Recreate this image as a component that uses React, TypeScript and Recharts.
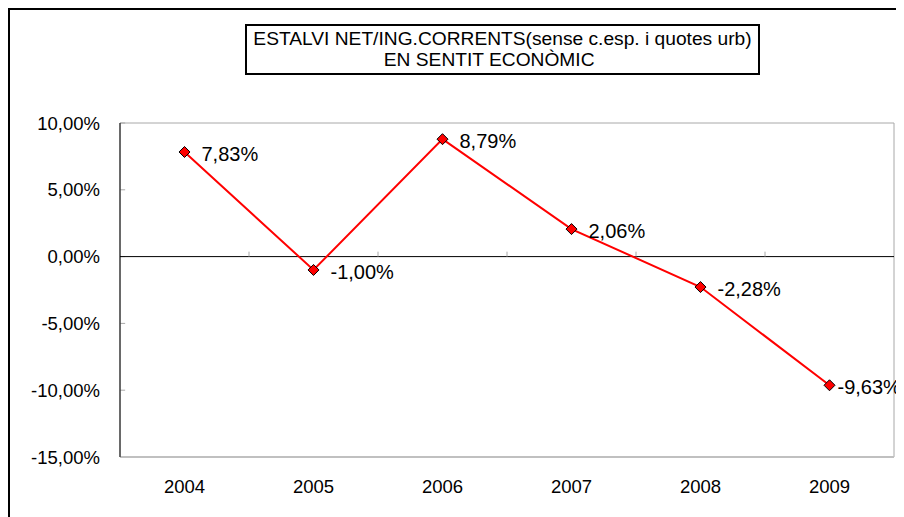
import { Line, LineChart, ReferenceArea, ReferenceLine, XAxis, YAxis, LabelList } from 'recharts';

const years = ['2004', '2005', '2006', '2007', '2008', '2009'];
const ratios = [7.83, -1.0, 8.79, 2.06, -2.28, -9.63];
const yTicks = [10, 5, 0, -5, -10, -15];
const boundaries = [1, 2, 3, 4, 5];
const titleLines = ['ESTALVI NET/ING.CORRENTS(sense c.esp. i quotes urb)', 'EN SENTIT ECONÒMIC     '];

const data = years.map((year, i) => ({ pos: i + 0.5, year, ratio: ratios[i] }));

const FONT = '"Liberation Sans", Arial, sans-serif';
const pct = (v: number) => v.toFixed(2).replace('.', ',') + '%';

function Diamond(props: any) {
  const { cx, cy } = props;
  if (cx == null || cy == null) return null;
  const r = 5.5;
  return (
    <polygon
      points={`${cx},${cy - r} ${cx + r},${cy} ${cx},${cy + r} ${cx - r},${cy}`}
      fill="#ff0000"
      stroke="#000"
      strokeWidth={1}
    />
  );
}

function ValueLabel(props: any) {
  const { x, y, value, index } = props;
  // last label is pushed left so it stays inside the frame
  const dx = index === ratios.length - 1 ? 8 : 17;
  return (
    <text x={x + dx} y={y + 9} fontSize={20} fontFamily={FONT} fill="#000">
      {pct(value)}
    </text>
  );
}

export default function App() {
  return (
    <div
      style={{
        position: 'relative',
        width: 900,
        height: 520,
        border: '2px solid #000',
        boxSizing: 'border-box',
        fontFamily: FONT,
        background: '#fff',
      }}
    >
      <style>{'body{overflow:hidden}'}</style>
      <div
        style={{
          position: 'absolute',
          left: 235,
          top: 14,
          width: 515,
          height: 51,
          boxSizing: 'border-box',
          border: '2px solid #000',
          paddingTop: 2,
          textAlign: 'center',
          fontSize: 19.2,
          lineHeight: '21px',
          whiteSpace: 'pre',
          zIndex: 1,
        }}
      >
        {titleLines.map((l) => (
          <div key={l}>{l}</div>
        ))}
      </div>
      <LineChart width={894} height={510} data={data} margin={{ top: 113, right: 10, bottom: 13, left: 0 }}>
        <ReferenceArea x1={0} x2={6} y1={-15} y2={10} fill="none" stroke="#a8a8a8" strokeWidth={1} />
        <XAxis
          dataKey="pos"
          type="number"
          domain={[0, 6]}
          ticks={data.map((d) => d.pos)}
          interval={0}
          tickFormatter={(v: number) => years[Math.floor(v)]}
          axisLine={{ stroke: '#c0c0c0', strokeWidth: 2 }}
          tickLine={false}
          tickSize={0}
          tickMargin={23}
          height={50}
          tick={{ fontSize: 18.5, fontFamily: FONT, fill: '#000' }}
        />
        <YAxis
          type="number"
          domain={[-15, 10]}
          ticks={yTicks}
          interval={0}
          width={110}
          tickFormatter={pct}
          axisLine={{ stroke: '#000', strokeWidth: 1 }}
          tickLine={false}
          tickSize={0}
          tickMargin={20}
          tick={{ fontSize: 18.5, fontFamily: FONT, fill: '#000' }}
        />
        {yTicks.map((t) => (
          <ReferenceLine
            key={'yt' + t}
            segment={[
              { x: 0, y: t },
              { x: 0.04, y: t },
            ]}
            stroke="#a8a8a8"
          />
        ))}
        <ReferenceLine y={0} stroke="#000" strokeWidth={1} />
        {boundaries.map((b) => (
          <ReferenceLine
            key={'xt' + b}
            segment={[
              { x: b, y: 0 },
              { x: b, y: 0.37 },
            ]}
            stroke="#a8a8a8"
          />
        ))}
        <Line
          type="linear"
          dataKey="ratio"
          stroke="#ff0000"
          strokeWidth={2}
          dot={<Diamond />}
          activeDot={false}
          isAnimationActive={false}
        >
          <LabelList dataKey="ratio" content={<ValueLabel />} />
        </Line>
      </LineChart>
    </div>
  );
}
